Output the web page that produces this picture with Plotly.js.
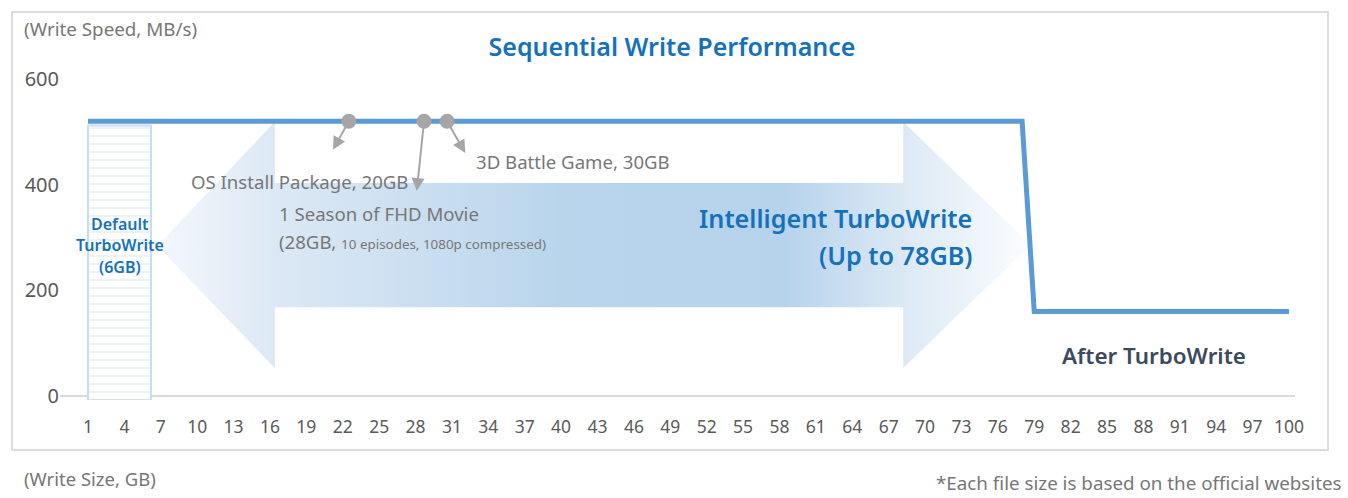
<!DOCTYPE html>
<html>
<head>
<meta charset="utf-8">
<script src="https://cdn.plot.ly/plotly-3.0.1.min.js"></script>
<style>
  html, body { margin: 0; padding: 0; background: #ffffff; }
  #chart { width: 1348px; height: 498px; }
</style>
</head>
<body>
<div id="chart"></div>
<script>
// ---------- data ----------
const sizeTicks = [1,4,7,10,13,16,19,22,25,28,31,34,37,40,43,46,49,52,55,58,61,64,67,70,73,76,79,82,85,88,91,94,97,100];
const speedTicks = [0, 200, 400, 600];

// write speed curve (GB written -> MB/s)
const writeSize  = [1, 78, 79, 100];
const writeSpeed = [520, 520, 160, 160];

// default TurboWrite buffer (6GB region)
const defaultBufferSize = [3.6];
const defaultBufferSpeed = [520];

// double-headed "Intelligent TurboWrite" arrow outline (GB, MB/s)
const arrowX = [6.7, 16.4, 16.4, 68.2, 68.2, 78.7, 68.2, 68.2, 16.4, 16.4, 6.7];
const arrowY = [284, 519, 403, 403, 519, 286, 53, 168, 168, 53, 284];

// example files: where the marker sits and where its arrow points
const fileNames = ['OS Install Package, 20GB', '1 Season of FHD Movie', '3D Battle Game, 30GB'];
const fileDotX  = [22.5, 28.7, 30.6];
const fileDotY  = [520, 520, 520];
const filePointX = [21.2, 28.1, 32.1];
const filePointY = [466, 388, 460];

// ---------- layout helpers ----------
const W = 1348, H = 498;
const M = {l: 60, r: 53, t: 60, b: 98};
const PW = W - M.l - M.r, PH = H - M.t - M.b;
const px = x => (x - M.l) / PW;
const py = y => (H - M.b - y) / PH;

const FONT = 'Noto Sans, Open Sans, sans-serif';
const GREY = '#777777';
const BLUE = '#1571bb';

const traces = [
  {
    type: 'bar',
    x: defaultBufferSize, y: defaultBufferSpeed, base: -8, width: 5.2,
    marker: {
      color: '#ffffff',
      line: {color: '#c6dcf0', width: 2},
      pattern: {shape: '-', fgcolor: '#c8dbee', bgcolor: '#ffffff', size: 8, solidity: 0.18, fillmode: 'overlay'}
    },
    hoverinfo: 'skip', showlegend: false
  },
  {
    type: 'scatter', mode: 'lines',
    x: arrowX, y: arrowY, fill: 'toself',
    line: {width: 0, color: 'rgba(0,0,0,0)'},
    fillgradient: {
      type: 'horizontal',
      colorscale: [
        [0, '#f4f8fc'], [0.135, '#dce8f5'], [0.28, '#cde0f1'], [0.46, '#b9d5ec'],
        [0.72, '#b7d3ec'], [0.855, '#dce9f5'], [1, '#fbfdfe']
      ]
    },
    hoverinfo: 'skip', showlegend: false
  },
  {
    type: 'scatter', mode: 'lines',
    x: writeSize, y: writeSpeed,
    line: {color: '#5b9bd5', width: 5},
    hoverinfo: 'skip', showlegend: false
  },
  {
    type: 'scatter', mode: 'markers',
    x: fileDotX, y: fileDotY,
    marker: {color: '#a6a6a6', size: 15},
    hoverinfo: 'skip', showlegend: false
  }
];

const annotations = [];
// arrows from dots
for (let i = 0; i < fileDotX.length; i++) {
  annotations.push({
    x: filePointX[i], y: filePointY[i], xref: 'x', yref: 'y',
    ax: fileDotX[i], ay: fileDotY[i], axref: 'x', ayref: 'y',
    text: '', showarrow: true, arrowhead: 2, arrowsize: 1.3, arrowwidth: 2,
    arrowcolor: '#a6a6a6', standoff: 0, startstandoff: 4
  });
}
function txt(text, x, y, anchor, size, color, weight) {
  annotations.push({
    text: text, xref: 'paper', yref: 'paper', x: px(x), y: py(y),
    xanchor: anchor, yanchor: 'middle', showarrow: false,
    font: {family: FONT, size: size, color: color, weight: weight || 400}
  });
}
txt('(Write Speed, MB/s)', 22, 29, 'left', 18.8, GREY);
txt('(Write Size, GB)', 22, 478, 'left', 18.5, GREY);
txt('*Each file size is based on the official websites', 1344, 483, 'right', 18.8, GREY);
txt(fileNames[0], 189, 181, 'left', 18.6, GREY);
txt(fileNames[2], 474, 161, 'left', 18.6, GREY);
txt(fileNames[1], 277, 214, 'left', 18.6, GREY);
txt('(28GB, <span style="font-size:13.4px">10 episodes, 1080p compressed)</span>', 277, 241, 'left', 18.6, GREY);
txt('Intelligent TurboWrite', 974, 218, 'right', 25.2, BLUE, 600);
txt('(Up to 78GB)', 974, 255, 'right', 25.2, BLUE, 600);
txt('Default', 120, 224, 'center', 16, BLUE, 600);
txt('TurboWrite', 120, 245, 'center', 16, BLUE, 600);
txt('(6GB)', 120, 267, 'center', 16, BLUE, 600);
txt('After TurboWrite', 1154, 355, 'center', 22.4, '#3b4a5e', 600);

const layout = {
  width: W, height: H,
  margin: M,
  paper_bgcolor: '#ffffff', plot_bgcolor: 'rgba(0,0,0,0)',
  showlegend: false,
  title: {
    text: 'Sequential Write Performance',
    x: 668 / W, xanchor: 'center', xref: 'paper',
    y: 1 - 47 / H, yanchor: 'middle',
    font: {family: FONT, size: 25, color: BLUE, weight: 600}
  },
  xaxis: {
    range: [1 - 28 / 12.1313, 100 + 6 / 12.1313],
    tickvals: sizeTicks, ticktext: sizeTicks.map(String),
    showgrid: false, zeroline: false, showline: false, ticks: '',
    ticklabelstandoff: 14,
    tickfont: {family: FONT, size: 17.5, color: '#5a5a5a'},
    fixedrange: true
  },
  yaxis: {
    range: [-4 / 0.52833, (396 - M.t) / 0.52833],
    tickvals: speedTicks,
    showgrid: false, zeroline: true, zerolinecolor: '#d9d9d9', zerolinewidth: 2,
    showline: false, ticks: '',
    tickfont: {family: FONT, size: 20, color: '#5a5a5a'},
    fixedrange: true
  },
  shapes: [{
    type: 'rect', xref: 'paper', yref: 'paper',
    x0: px(12), x1: px(1328), y0: py(450), y1: py(12),
    line: {color: '#dcdcdc', width: 2}, fillcolor: 'rgba(0,0,0,0)', layer: 'below'
  }],
  annotations: annotations
};

Plotly.newPlot('chart', traces, layout, {displayModeBar: false, staticPlot: true});
</script>
</body>
</html>
